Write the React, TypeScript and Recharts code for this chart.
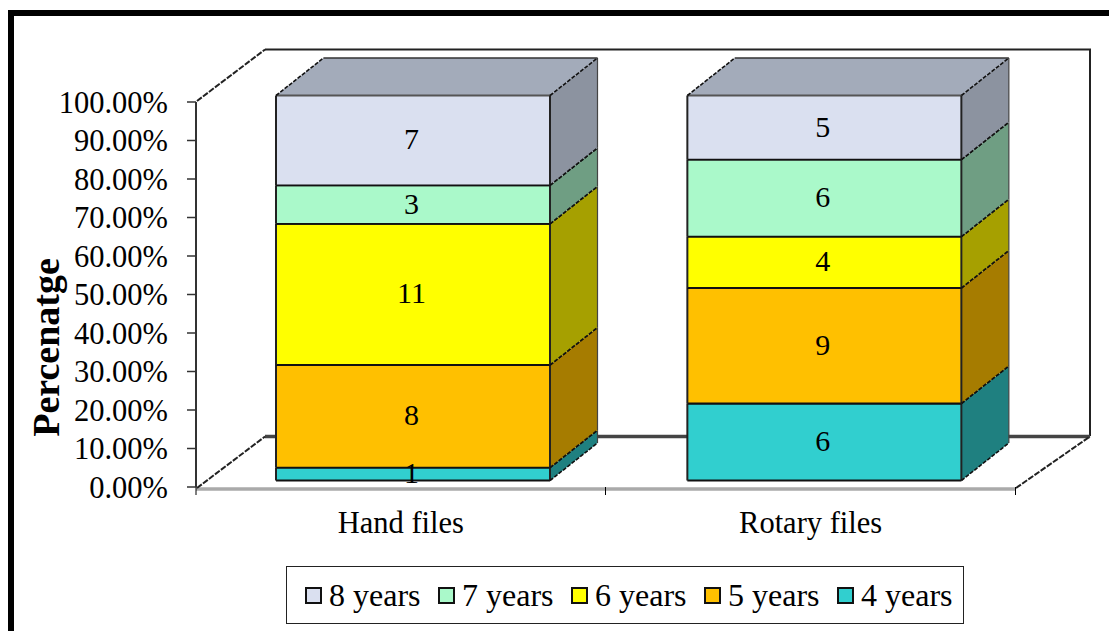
import React from "react";
import { BarChart, Bar, XAxis, YAxis, Legend, Label, LabelList } from "recharts";

const categories = ["Hand files", "Rotary files"];
const years4 = [1, 6];
const years5 = [8, 9];
const years6 = [11, 4];
const years7 = [3, 6];
const years8 = [7, 5];
const yTicks = [0, 0.1, 0.2, 0.3, 0.4, 0.5, 0.6, 0.7, 0.8, 0.9, 1];

const rows = categories.map((name, i) => ({
  name,
  "4 years": years4[i],
  "5 years": years5[i],
  "6 years": years6[i],
  "7 years": years7[i],
  "8 years": years8[i],
}));

const FONT = '"Liberation Serif", "Times New Roman", serif';
const DEPTH_X = 47.5;
const DEPTH_Y = -37.5;
const BAR_DY = -6.5;
const BAR_DX = [12, 13.6];

const seriesStyle = [
  { key: "4 years", front: "#31CFCF", side: "#1F8080", edge: "#111" },
  { key: "5 years", front: "#FFC000", side: "#A67C00", edge: "#111" },
  { key: "6 years", front: "#FFFF00", side: "#A6A000", edge: "#111" },
  { key: "7 years", front: "#AAF9CA", side: "#6F9E83", edge: "#333" },
  { key: "8 years", front: "#DAE0F0", side: "#8C93A0", edge: "#555" },
];
const TOP_COLOR = "#A3ABBA";

function makeShape(s: (typeof seriesStyle)[number], isTop: boolean) {
  return function Shape3D(props: any) {
    const { x, y, width, height, index } = props;
    const l = x + BAR_DX[index];
    const r = l + width;
    const t = y + BAR_DY;
    const b = t + height;
    const bx = r + DEPTH_X;
    return (
      <g>
        <polygon
          points={`${r},${t} ${bx},${t + DEPTH_Y} ${bx},${b + DEPTH_Y} ${r},${b}`}
          fill={s.side}
        />
        {isTop && (
          <polygon
            points={`${l},${t} ${l + DEPTH_X},${t + DEPTH_Y} ${bx},${t + DEPTH_Y} ${r},${t}`}
            fill={TOP_COLOR}
          />
        )}
        <rect x={l} y={t} width={width} height={height} fill={s.front} />
        <line x1={l} y1={b} x2={r} y2={b} stroke="#111" strokeWidth={1.8} />
        <line x1={l} y1={t} x2={r} y2={t} stroke={s.edge} strokeWidth={1.8} />
        <line x1={l} y1={t} x2={l} y2={b} stroke="#222" strokeWidth={2} />
        <line x1={r} y1={t} x2={r} y2={b} stroke="#222" strokeWidth={2} />
        <line x1={bx} y1={t + DEPTH_Y} x2={bx} y2={b + DEPTH_Y} stroke="#444" strokeWidth={1.2} />
        <line x1={r} y1={t} x2={bx} y2={t + DEPTH_Y} stroke="#111" strokeWidth={1.6} strokeDasharray="4 1.5" />
        <line x1={r} y1={b} x2={bx} y2={b + DEPTH_Y} stroke="#111" strokeWidth={1.6} strokeDasharray="4 1.5" />
        {isTop && (
          <>
            <line x1={l} y1={t} x2={l + DEPTH_X} y2={t + DEPTH_Y} stroke="#111" strokeWidth={1.6} strokeDasharray="4 1.5" />
            <line x1={l + DEPTH_X} y1={t + DEPTH_Y} x2={bx} y2={t + DEPTH_Y} stroke="#333" strokeWidth={1.4} />
          </>
        )}
      </g>
    );
  };
}

function makeLabel(key: string) {
  return function BarLabel(props: any) {
    const box = props.viewBox ?? props;
    const { x, y, width, height } = box;
    const i = props.index;
    const row: any = rows[i];
    if (!row) return null;
    return (
      <text
        x={x + BAR_DX[i] + width / 2 - 1.5}
        y={y + BAR_DY + height / 2 - 1.5}
        textAnchor="middle"
        dominantBaseline="central"
        fontFamily={FONT}
        fontSize={30}
        fill="#000"
      >
        {row[key]}
      </text>
    );
  };
}

function LegendBox({ payload }: any) {
  const items = [...(payload || [])].reverse();
  return (
    <div
      style={{
        display: "flex",
        alignItems: "center",
        justifyContent: "flex-start",
        height: "100%",
        paddingLeft: 18,
        boxSizing: "border-box",
        fontFamily: FONT,
        fontSize: 32,
        color: "#000",
        whiteSpace: "nowrap",
      }}
    >
      {items.map((it: any) => (
        <span key={it.value} style={{ display: "inline-flex", alignItems: "center", width: 133, flexShrink: 0 }}>
          <span
            style={{
              display: "inline-block",
              width: 13,
              height: 13,
              border: "2px solid #111",
              background: it.color,
              marginRight: 7,
            }}
          />
          {it.value}
        </span>
      ))}
    </div>
  );
}

function Backdrop() {
  const dash = { stroke: "#222", strokeWidth: 2, strokeDasharray: "6 1.5" };
  return (
    <svg width={1109} height={631} style={{ position: "absolute", left: 0, top: 0 }}>
      <rect x={0} y={0} width={1109} height={631} fill="#fff" />
      <path d="M1109 13 H11 V631" fill="none" stroke="#000" strokeWidth={6} />
      <path d="M265 49.5 H1090 V436" fill="none" stroke="#222" strokeWidth={2} />
      <line x1={265} y1={436.5} x2={1090} y2={436.5} stroke="#444" strokeWidth={3.5} />
      <line x1={196} y1={489} x2={1016} y2={489} stroke="#aaa" strokeWidth={3.5} />
      <line x1={197} y1={101} x2={265} y2={49.5} {...dash} />
      <line x1={197} y1={488} x2={265} y2={436.5} {...dash} />
      <line x1={1016} y1={488} x2={1090} y2={436.5} {...dash} />
      {[196, 605.5, 1015.5].map((x) => (
        <line key={x} x1={x} y1={487} x2={x} y2={495} stroke="#000" strokeWidth={1} />
      ))}
    </svg>
  );
}

export default function App() {
  return (
    <div style={{ position: "absolute", left: 0, top: 0, width: 1109, height: 631, overflow: "hidden" }}>
      <Backdrop />
      <div style={{ position: "absolute", left: 0, top: 0 }}>
        <BarChart
          width={1109}
          height={631}
          data={rows}
          stackOffset="expand"
          barSize={274}
          margin={{ left: 66, right: 93.5, top: 102, bottom: 94 }}
        >
          <XAxis
            dataKey="name"
            height={50}
            axisLine={false}
            tickLine={false}
            tickMargin={18}
            interval={0}
            tick={{ fontFamily: FONT, fontSize: 30.5, fill: "#000" }}
          />
          <YAxis
            width={130}
            domain={[0, 1]}
            ticks={yTicks}
            interval={0}
            tickSize={9}
            tickMargin={19}
            tickFormatter={(v: number) => `${(v * 100).toFixed(2)}%`}
            axisLine={{ stroke: "#333", strokeWidth: 2 }}
            tickLine={{ stroke: "#333", strokeWidth: 1.5 }}
            tick={{ fontFamily: FONT, fontSize: 30.5, fill: "#000" }}
          >
            <Label
              content={() => (
                <text
                  x={46}
                  y={347.5}
                  textAnchor="middle"
                  dominantBaseline="central"
                  transform="rotate(-90 46 347.5)"
                  fontFamily={FONT}
                  fontSize={38}
                  fontWeight="bold"
                  fill="#000"
                >
                  Percenatge
                </text>
              )}
            />
          </YAxis>
          <Legend
            layout="horizontal"
            align="center"
            verticalAlign="middle"
            content={<LegendBox />}
            wrapperStyle={{
              left: 286,
              top: 566,
              width: 678,
              height: 58,
              border: "1.5px solid #222",
              background: "#fff",
              boxSizing: "border-box",
            }}
          />
          {seriesStyle.map((s, i) => (
            <Bar
              key={s.key}
              dataKey={s.key}
              stackId="a"
              fill={s.front}
              isAnimationActive={false}
              shape={makeShape(s, i === seriesStyle.length - 1)}
            >
              <LabelList dataKey={s.key} content={makeLabel(s.key)} />
            </Bar>
          ))}
        </BarChart>
      </div>
    </div>
  );
}
